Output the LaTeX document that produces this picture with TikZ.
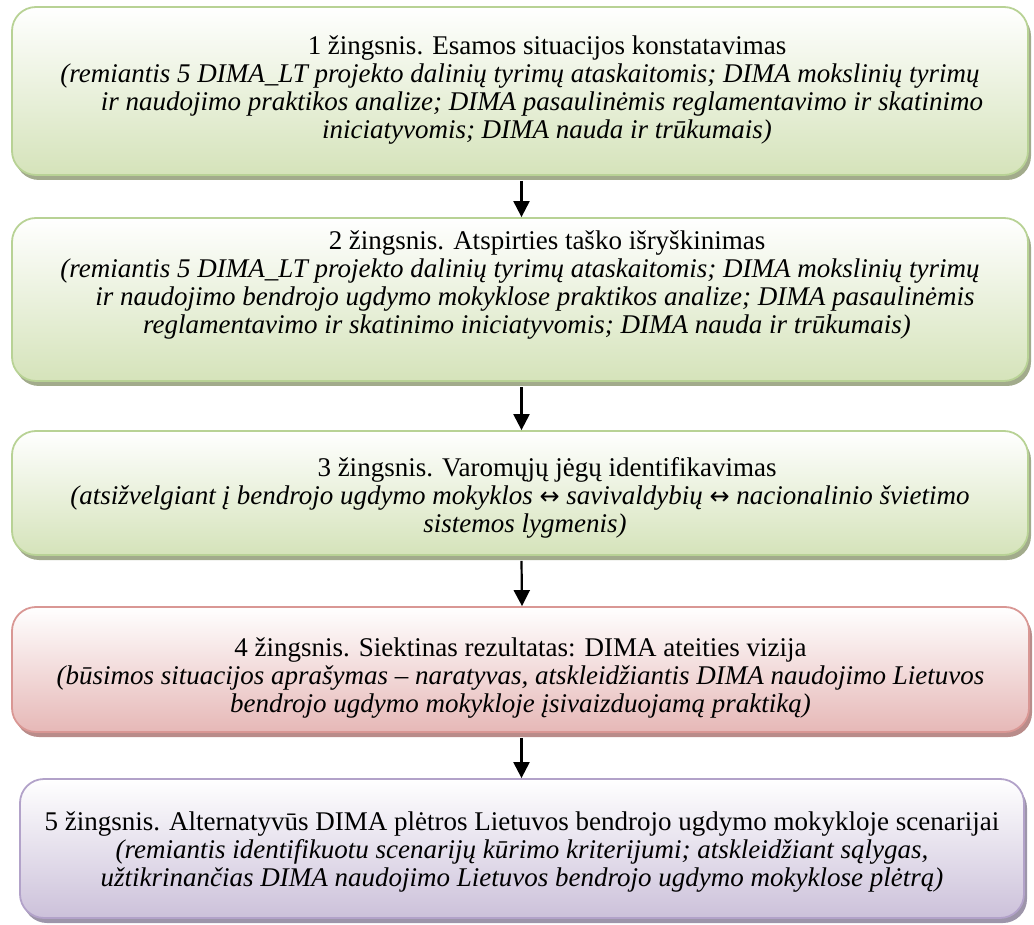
\documentclass[tikz,border=0pt]{standalone}
\usepackage{fontspec}
\setmainfont{Liberation Serif}
\newfontfamily\arrowfont{DejaVu Sans}
\usetikzlibrary{arrows.meta,shadows}
\definecolor{gfill}{HTML}{D5E3BA}
\definecolor{gline}{HTML}{B8D295}
\definecolor{gshad}{HTML}{A2AB8C}
\definecolor{rfill}{HTML}{E6B8B7}
\definecolor{rline}{HTML}{D99794}
\definecolor{rshad}{HTML}{B98C8A}
\definecolor{pfill}{HTML}{CCC1DA}
\definecolor{pline}{HTML}{B2A2C9}
\definecolor{pshad}{HTML}{9D95AA}
\newcommand{\lrarr}{{\arrowfont\upshape\fontsize{24}{28}\selectfont ↔}}
\tikzset{
  stepbox/.style={rounded corners=24pt, line width=1.8pt, inner sep=0pt},
  greenbox/.style={stepbox, draw=gline, top color=white, bottom color=gfill,
    general shadow={fill=gshad, shadow xshift=3pt, shadow yshift=-5pt}},
  redbox/.style={stepbox, draw=rline, top color=white, bottom color=rfill,
    general shadow={fill=rshad, shadow xshift=3pt, shadow yshift=-5pt}},
  purplebox/.style={stepbox, draw=pline, top color=white, bottom color=pfill,
    general shadow={fill=pshad, shadow xshift=3pt, shadow yshift=-5pt}},
  steptext/.style={inner sep=0pt, align=center, font=\fontsize{27}{28}\selectfont, text=black},
  arr/.style={line width=2.2pt, -{Triangle[length=16pt,width=16pt]}}
}
\begin{document}
\begin{tikzpicture}[x=1pt,y=1pt]
\useasboundingbox (0,0) rectangle (1034,-925);
\node[greenbox, minimum width=1016pt, minimum height=168pt] (b1) at (520,-91) {};
\node[greenbox, minimum width=1016pt, minimum height=163pt] (b2) at (520,-299.5) {};
\node[greenbox, minimum width=1016pt, minimum height=124pt] (b3) at (520,-493) {};
\node[redbox, minimum width=1017pt, minimum height=125pt] (b4) at (520.5,-669.5) {};
\node[purplebox, minimum width=1004pt, minimum height=139pt] (b5) at (522,-848.5) {};
\node[steptext] (t1) at ([yshift=1pt]b1.center) {%
\hspace*{54pt}1 žingsnis. Esamos situacijos konstatavimas\\
\textit{(remiantis 5 DIMA\_LT projekto dalinių tyrimų ataskaitomis; DIMA mokslinių tyrimų}\\
\hspace*{44pt}\textit{ir naudojimo praktikos analize; DIMA pasaulinėmis reglamentavimo ir skatinimo}\\
\hspace*{54pt}\textit{iniciatyvomis; DIMA nauda ir trūkumais)}};
\node[steptext] (t2) at ([yshift=14pt]b2.center) {%
\hspace*{54pt}2 žingsnis. Atspirties taško išryškinimas\\
\textit{(remiantis 5 DIMA\_LT projekto dalinių tyrimų ataskaitomis; DIMA mokslinių tyrimų}\\
\hspace*{30pt}\textit{ir naudojimo bendrojo ugdymo mokyklose praktikos analize; DIMA pasaulinėmis}\\
\hspace*{14pt}\textit{reglamentavimo ir skatinimo iniciatyvomis; DIMA nauda ir trūkumais)}};
\node[steptext] (t3) at ([yshift=-5pt]b3.center) {%
\hspace*{54pt}3 žingsnis. Varomųjų jėgų identifikavimas\\
\textit{(atsižvelgiant į bendrojo ugdymo mokyklos \lrarr{} savivaldybių \lrarr{} nacionalinio švietimo}\\
\hspace*{10pt}\textit{sistemos lygmenis)}};
\node[steptext] (t4) at ([yshift=-9pt]b4.center) {%
4 žingsnis. Siektinas rezultatas: DIMA ateities vizija\\
\textit{(būsimos situacijos aprašymas – naratyvas, atskleidžiantis DIMA naudojimo Lietuvos}\\
\textit{bendrojo ugdymo mokykloje įsivaizduojamą praktiką)}};
\node[steptext] (t5) at ([yshift=-4pt]b5.center) {%
5 žingsnis. Alternatyvūs DIMA plėtros Lietuvos bendrojo ugdymo mokykloje scenarijai\\
\textit{(remiantis identifikuotu scenarijų kūrimo kriterijumi; atskleidžiant sąlygas,}\\
\textit{užtikrinančias DIMA naudojimo Lietuvos bendrojo ugdymo mokyklose plėtrą)}};
\draw[arr] ([xshift=1.5pt,yshift=-5pt]b1.south) -- ([xshift=1.5pt]b2.north);
\draw[arr] ([xshift=1.5pt,yshift=-5pt]b2.south) -- ([xshift=1.5pt]b3.north);
\draw[arr] ([xshift=1.5pt,yshift=-5pt]b3.south) -- ([xshift=1.5pt]b4.north);
\draw[arr] ([xshift=1pt,yshift=-5pt]b4.south) -- ([xshift=1pt]b4.south |- b5.north);
\end{tikzpicture}
\end{document}
